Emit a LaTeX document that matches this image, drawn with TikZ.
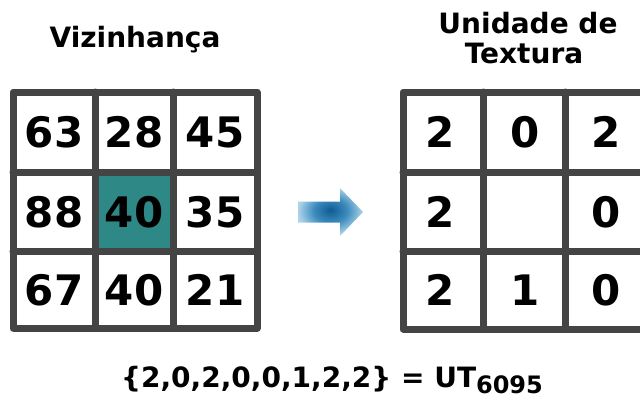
\documentclass[tikz,border=0pt]{standalone}
\usepackage{fontspec}
\setmainfont{DejaVu Sans}
\definecolor{gridgray}{RGB}{68,68,68}
\definecolor{centerteal}{RGB}{46,136,134}
\definecolor{arrowdark}{RGB}{14,92,145}
\definecolor{arrowmid}{RGB}{62,140,190}
\definecolor{arrowlight}{RGB}{172,212,232}
\pgfdeclareradialshading{arrowglow}{\pgfpoint{0bp}{2bp}}{%
  color(0bp)=(arrowdark); color(13bp)=(arrowmid); color(25bp)=(arrowlight); color(50bp)=(arrowlight)}
\tikzset{
  gridline/.style={draw=gridgray, line width=7pt, line cap=round, line join=round},
  num/.style={font=\bfseries\fontsize{42}{42}\selectfont, inner sep=0pt, text=black},
  heading/.style={font=\bfseries\fontsize{28}{30}\selectfont, inner sep=0pt, align=center, text=black},
}
\begin{document}
\begin{tikzpicture}[x=1pt, y=-1pt]
\path[use as bounding box, clip] (0,0) rectangle (640,402);
\fill[white] (0,0) rectangle (640,402);

% neighbourhood grid
\fill[centerteal] (95,172) rectangle (173,251);
\draw[gridline] (13,92) rectangle (257,328);
\draw[gridline] (95,92) -- (95,328) (173,92) -- (173,328)
                (13,172) -- (257,172) (13,251) -- (257,251);

\node[num] (n11) at (54,132) {63};
\node[num] (n12) at (134,132) {28};
\node[num] (n13) at (215,132) {45};
\node[num] (n21) at (54,212) {88};
\node[num] (n22) at (134,212) {40};
\node[num] (n23) at (215,212) {35};
\node[num] (n31) at (54,290) {67};
\node[num] (n32) at (134,290) {40};
\node[num] (n33) at (215,290) {21};

% texture unit grid
\draw[gridline] (403,92) rectangle (647,329);
\draw[gridline] (483,92) -- (483,329) (565,92) -- (565,329)
                (403,172) -- (647,172) (403,251) -- (647,251);

\node[num] (u11) at (440,132) {2};
\node[num] (u12) at (525,132) {0};
\node[num] (u13) at (606,132) {2};
\node[num] (u21) at (440,212) {2};
\node[num] (u23) at (606,212) {0};
\node[num] (u31) at (440,290) {2};
\node[num] (u32) at (525,290) {1};
\node[num] (u33) at (606,290) {0};

% headings
\node[heading, anchor=base] (hv) at (135,47) {Vizinhança};
\node[heading, anchor=base] (hu) at (528,33) {Unidade de};
\node[heading, anchor=base] (ht) at (524,63) {Textura};

% arrow between the grids
\shade[shading=arrowglow]
  (298,201.5) -- (340,201.5) -- (340,188) -- (363,212) -- (340,236)
  -- (340,222.5) -- (298,222.5) -- cycle;

% resulting code
\node[inner sep=0pt, anchor=base, font=\bfseries\fontsize{28}{28}\selectfont] (code) at (332,387)
  {\{2,0,2,0,0,1,2,2\} = UT\raisebox{-6pt}{\fontsize{24}{24}\selectfont 6095}};
\end{tikzpicture}
\end{document}
